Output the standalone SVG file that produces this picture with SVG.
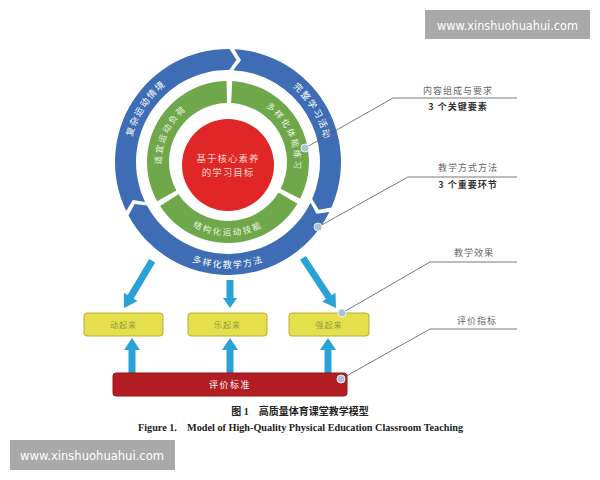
<svg xmlns="http://www.w3.org/2000/svg" xmlns:xlink="http://www.w3.org/1999/xlink" width="600" height="480" viewBox="0 0 600 480">
<style>
.blue{fill:#3e6db6}
.green{fill:#6fa84a}
.rt{font-family:"Noto Sans CJK SC",sans-serif;font-size:9px;fill:#ffffff;letter-spacing:1.5px}
.gt{font-family:"Noto Sans CJK SC",sans-serif;font-size:8.5px;fill:#eef6e6;letter-spacing:2px}
.box{fill:#e6df4c;stroke:#b9ad3a;stroke-width:1}
.bt{font-family:"Noto Sans CJK SC",sans-serif;font-size:8px;fill:#8c9c3c;text-anchor:middle;letter-spacing:1px}
.lab{font-family:"Noto Sans CJK SC",sans-serif;font-size:9px;fill:#666;text-anchor:middle;letter-spacing:1px}
.sub{font-family:"Noto Sans CJK SC",sans-serif;font-size:9px;fill:#333;font-weight:bold;text-anchor:middle;letter-spacing:1px}
.cl{fill:none;stroke:#555;stroke-width:0.8}
.dot{fill:#a9c2dc;stroke:#e8eef6;stroke-width:1}
.arr{fill:#29a2d5}
.wm{fill:#a9a9a9}
.wmt{font-family:"DejaVu Sans",sans-serif;font-size:13px;fill:#ffffff}
</style>
<defs>
<path id="pUL" d="M131.16,182.58 A99,99 0 0 1 207.42,65.16"/>
<path id="pUR" d="M251.95,65.94 A99,99 0 0 1 324.06,185.95"/>
<path id="pB" d="M153.05,236.95 A106,106 0 0 0 302.95,236.95"/>
<path id="gUL" d="M165.51,184.74 A66.5,66.5 0 0 1 205.26,99.51"/>
<path id="gUR" d="M251.83,99.92 A66.5,66.5 0 0 1 290.08,185.83"/>
<path id="gB" d="M176.03,213.97 A73.5,73.5 0 0 0 279.97,213.97"/>
</defs>
<rect width="600" height="480" fill="#ffffff"/>

<g id="connectors">
<polygon class="arr" transform="translate(124,308) rotate(120.8)" points="0,0 -13,-8 -13,-3.5 -55,-3.5 -55,3.5 -13,3.5 -13,8"/>
<polygon class="arr" transform="translate(230,308) rotate(90)" points="0,0 -10,-7 -10,-3.5 -28,-3.5 -28,3.5 -10,3.5 -10,7"/>
<polygon class="arr" transform="translate(336,308) rotate(56.6)" points="0,0 -13,-8 -13,-3.5 -60,-3.5 -60,3.5 -13,3.5 -13,8"/>
<polygon class="arr" transform="translate(132,338) rotate(-90)" points="0,0 -12,-8 -12,-3.5 -35,-3.5 -35,3.5 -12,3.5 -12,8"/>
<polygon class="arr" transform="translate(230,338) rotate(-90)" points="0,0 -12,-8 -12,-3.5 -35,-3.5 -35,3.5 -12,3.5 -12,8"/>
<polygon class="arr" transform="translate(328,338) rotate(-90)" points="0,0 -12,-8 -12,-3.5 -35,-3.5 -35,3.5 -12,3.5 -12,8"/>
</g>

<g id="ring-blue-ul">
<path class="blue" d="M126.22,211.09 A113,113 0 0 1 229.48,49.01 L236.49,59.85 L229.20,70.01 A92,92 0 0 0 145.14,201.97 L132.80,199.98 Z"/>
<text class="rt"><textPath xlink:href="#pUL" startOffset="50%" text-anchor="middle">复杂运动情境</textPath></text>
</g>
<g id="ring-blue-ur">
<path class="blue" d="M234.41,49.18 A113,113 0 0 1 331.43,207.51 L318.71,209.73 L312.21,199.05 A92,92 0 0 0 233.22,70.15 L240.94,60.32 Z"/>
<text class="rt"><textPath xlink:href="#pUR" startOffset="50%" text-anchor="middle">完整学习活动</textPath></text>
</g>
<g id="ring-blue-b">
<path class="blue" d="M329.35,211.98 A113,113 0 0 1 128.46,215.49 L134.54,204.10 L146.96,205.55 A92,92 0 0 0 310.51,202.69 L316.54,213.64 Z"/>
<text class="rt"><textPath xlink:href="#pB" startOffset="50%" text-anchor="middle">多样化教学方法</textPath></text>
</g>

<g id="ring-green-ul">
<path class="green" d="M157.16,201.27 A81,81 0 0 1 226.59,81.01 L226.97,103.01 A59,59 0 0 0 176.40,190.60 Z"/>
<text class="gt"><textPath xlink:href="#gUL" startOffset="50%" text-anchor="middle">适宜运动负荷</textPath></text>
</g>
<g id="ring-green-ur">
<path class="green" d="M232.24,81.11 A81,81 0 0 1 300.17,198.77 L280.57,188.79 A59,59 0 0 0 231.09,103.08 Z"/>
<text class="gt"><textPath xlink:href="#gUR" startOffset="50%" text-anchor="middle">多样化体能练习</textPath></text>
</g>
<g id="ring-green-b">
<path class="green" d="M297.43,203.72 A81,81 0 0 1 160.07,206.12 L178.52,194.13 A59,59 0 0 0 278.57,192.39 Z"/>
<text class="gt"><textPath xlink:href="#gB" startOffset="50%" text-anchor="middle">结构化运动技能</textPath></text>
</g>

<g id="core">
<circle cx="228" cy="165" r="46" fill="#e02626"/>
<text x="228" y="162" font-family="'Noto Sans CJK SC',sans-serif" font-size="9.5" fill="#f9d6d0" text-anchor="middle" letter-spacing="1">基于核心素养</text>
<text x="228" y="176" font-family="'Noto Sans CJK SC',sans-serif" font-size="9.5" fill="#f9d6d0" text-anchor="middle" letter-spacing="1">的学习目标</text>
</g>

<g id="box-1">
<rect class="box" x="84" y="313" width="79" height="23" rx="3"/>
<text class="bt" x="123.5" y="327.5">动起来</text>
</g>
<g id="box-2">
<rect class="box" x="188" y="313" width="79" height="23" rx="3"/>
<text class="bt" x="227.5" y="327.5">乐起来</text>
</g>
<g id="box-3">
<rect class="box" x="289" y="313" width="80" height="23" rx="3"/>
<text class="bt" x="329" y="327.5">强起来</text>
</g>

<g id="eval-bar">
<rect x="113" y="373" width="234" height="23" rx="3" fill="#b21e24" stroke="#8e161b" stroke-width="1"/>
<text x="230" y="388" font-family="'Noto Sans CJK SC',sans-serif" font-size="9" fill="#ffffff" text-anchor="middle" letter-spacing="1.5">评价标准</text>
</g>

<g id="callouts">
<polyline class="cl" points="305,148 393,98 517,98"/>
<polyline class="cl" points="318,227 408,177 517,177"/>
<polyline class="cl" points="342,313 430,262 517,262"/>
<polyline class="cl" points="341,379 430,329 517,329"/>
<circle class="dot" cx="305" cy="148" r="4"/>
<circle class="dot" cx="318" cy="227" r="4"/>
<circle class="dot" cx="342" cy="313" r="4"/>
<circle class="dot" cx="341" cy="379" r="4"/>
</g>
<g id="label-1">
<text class="lab" x="458" y="94">内容组成与要求</text>
<text class="sub" x="458" y="110">3 个关键要素</text>
</g>
<g id="label-2">
<text class="lab" x="468" y="171">教学方式方法</text>
<text class="sub" x="468" y="188">3 个重要环节</text>
</g>
<g id="label-3">
<text class="lab" x="474" y="256">教学效果</text>
</g>
<g id="label-4">
<text class="lab" x="477" y="324">评价指标</text>
</g>

<g id="caption">
<text x="300" y="415" font-family="'Liberation Serif','Noto Sans CJK SC',serif" font-size="10" font-weight="bold" fill="#222" text-anchor="middle" xml:space="preserve">图 1    高质量体育课堂教学模型</text>
<text x="138" y="431" font-family="'Liberation Serif',serif" font-size="10" font-weight="bold" fill="#222" textLength="325" lengthAdjust="spacingAndGlyphs" xml:space="preserve">Figure 1.    Model of High-Quality Physical Education Classroom Teaching</text>
</g>

<g id="watermark-top">
<rect class="wm" x="425" y="10" width="165" height="29"/>
<text class="wmt" x="437" y="29.5" textLength="141" lengthAdjust="spacingAndGlyphs">www.xinshuohuahui.com</text>
</g>
<g id="watermark-bottom">
<rect class="wm" x="10" y="440" width="165" height="30"/>
<text class="wmt" x="20" y="460" textLength="144" lengthAdjust="spacingAndGlyphs">www.xinshuohuahui.com</text>
</g>
</svg>
